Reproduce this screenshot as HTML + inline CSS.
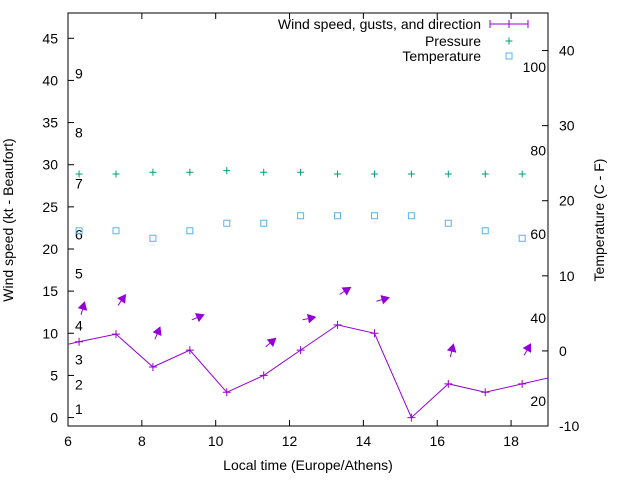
<!DOCTYPE html>
<html><head><meta charset="utf-8"><style>
body{margin:0;background:#fff}
svg{font-family:"Liberation Sans",sans-serif;font-size:14px}
</style></head><body>
<svg id="c" width="640" height="480"></svg>
<script>
const hours=[5.3,6.3,7.3,8.3,9.3,10.3,11.3,12.3,13.3,14.3,15.3,16.3,17.3,18.3,19.3];
const windSpeed=[8,9,9.9,6,8,3,5,8,11,10,0,4,3,4,5];
const pressureHours=[6.3,7.3,8.3,9.3,10.3,11.3,12.3,13.3,14.3,15.3,16.3,17.3,18.3];
const pressure=[28.9,28.9,29.1,29.1,29.3,29.1,29.1,28.9,28.9,28.9,28.9,28.9,28.9];
const temperature=[16,16,15,16,17,17,18,18,18,18,17,16,15];
const gustHours=[6.3,7.3,8.3,9.3,11.3,12.3,13.3,14.3,16.3,18.3];
const gusts=[12.2,13.3,9.3,11.6,8.4,11.6,14.6,13.8,7.2,7.4];
const gustDir=[75,55,67,23,40,12,33,16,76,60];
const leftTicks=[0,5,10,15,20,25,30,35,40,45];
const rightTicks=[-10,0,10,20,30,40];
const xTicks=[6,8,10,12,14,16,18];
const beaufortY=[1,2,3,4,5,6,7,8,9];
const beaufortPos=[1.0,3.9,6.9,10.9,17.1,21.7,27.8,33.8,40.8];
const fahr=[20,40,60,80,100];

const L=68,R=548,T=13,B=426;
const X=h=>L+(h-6)/(19-6)*(R-L);
const Y=v=>B-(v+1)/(48+1)*(B-T);
const Y2=t=>B-(t+10)/(45+10)*(B-T);
const ns="http://www.w3.org/2000/svg";
const svg=document.getElementById('c');
function mk(tag,attrs,parent){const e=document.createElementNS(ns,tag);for(const k in attrs)e.setAttribute(k,attrs[k]);(parent||svg).appendChild(e);return e;}
const defs=mk('defs',{});
const cp=mk('clipPath',{id:'clip'},defs);mk('rect',{x:L,y:T,width:R-L,height:B-T},cp);

let box=mk('rect',{x:L,y:T,width:R-L,height:B-T,fill:'none',stroke:'#000','stroke-width':1});


leftTicks.forEach(v=>{const y=Y(v);
 mk('line',{x1:L,y1:y,x2:L+6,y2:y,stroke:'#000'});
 const t=mk('text',{x:L-10,y:y+5,'text-anchor':'end'});t.textContent=v;
 });
rightTicks.forEach(v=>{const y=Y2(v);
 mk('line',{x1:R-6,y1:y,x2:R,y2:y,stroke:'#000'});
 const t=mk('text',{x:R+11,y:y+5});t.textContent=v;
 });
xTicks.forEach(v=>{const x=X(v);
 mk('line',{x1:x,y1:B,x2:x,y2:B-6,stroke:'#000'});mk('line',{x1:x,y1:T,x2:x,y2:T+6,stroke:'#000'});
 const t=mk('text',{x:x,y:B+20,'text-anchor':'middle'});t.textContent=v;
 });
beaufortY.forEach((b,i)=>{const t=mk('text',{x:75,y:Y(beaufortPos[i])+5});t.textContent=b;
 });
const fPos=[-6.7,4.4,15.6,26.7,37.8];
fahr.forEach((f,i)=>{const t=mk('text',{x:546,y:Y2(fPos[i])+5,'text-anchor':'end'});t.textContent=f;
 });

let t=mk('text',{x:308,y:470,'text-anchor':'middle'});t.textContent='Local time (Europe/Athens)';

t=mk('text',{x:13,y:220,'text-anchor':'middle',transform:'rotate(-90 13 220)'});t.textContent='Wind speed (kt - Beaufort)';

t=mk('text',{x:604,y:220,'text-anchor':'middle',transform:'rotate(-90 604 220)'});t.textContent='Temperature (C - F)';


const g=mk('g',{'clip-path':'url(#clip)'});
let pl=mk('polyline',{points:hours.map((h,i)=>X(h)+','+Y(windSpeed[i])).join(' '),fill:'none',stroke:'#9400d3','stroke-width':1},g);

hours.forEach((h,i)=>{const x=X(h),y=Y(windSpeed[i]);
 const p=mk('path',{d:`M${x-4},${y}h8M${x},${y-4}v8`,stroke:'#9400d3'},g);
 });
pressureHours.forEach((h,i)=>{const x=X(h),y=Y(pressure[i]);
 const p=mk('path',{d:`M${x-3.5},${y}h7M${x},${y-3.5}v7`,stroke:'#009e73'},g);
 });
pressureHours.forEach((h,i)=>{const x=X(h),y=Y2(temperature[i]);
 const p=mk('rect',{x:x-3,y:y-3,width:6,height:6,fill:'none',stroke:'#56b4e9'},g);
 });
gustHours.forEach((h,i)=>{const x=X(h)+2,y=Y(gusts[i]);const a=gustDir[i]*Math.PI/180,len=13;
 const ex=x+len*Math.cos(a),ey=y-len*Math.sin(a);
 const ux=Math.cos(a),uy=-Math.sin(a),px=-uy,py=ux,hl=7,hw=4;
 const bx=ex-ux*hl,by=ey-uy*hl;
 const gg=mk('g',{},g);
 mk('line',{x1:x,y1:y,x2:bx,y2:by,stroke:'#9400d3'},gg);
 mk('polygon',{points:`${ex},${ey} ${bx+px*hw},${by+py*hw} ${bx-px*hw},${by-py*hw}`,fill:'#9400d3',stroke:'#9400d3'},gg);});

const lg=mk('g',{});
t=mk('text',{x:481,y:29,'text-anchor':'end'},lg);t.textContent='Wind speed, gusts, and direction';
mk('path',{d:'M490,24h38M490,20v8M528,20v8M509,20v8M505,24h8',stroke:'#9400d3'},lg);
t=mk('text',{x:481,y:46,'text-anchor':'end'},lg);t.textContent='Pressure';
mk('path',{d:'M505.5,41h7M509,37.5v7',stroke:'#009e73'},lg);
t=mk('text',{x:481,y:61,'text-anchor':'end'},lg);t.textContent='Temperature';
mk('rect',{x:506,y:53,width:6,height:6,fill:'none',stroke:'#56b4e9'},lg);
</script>
</body></html>
